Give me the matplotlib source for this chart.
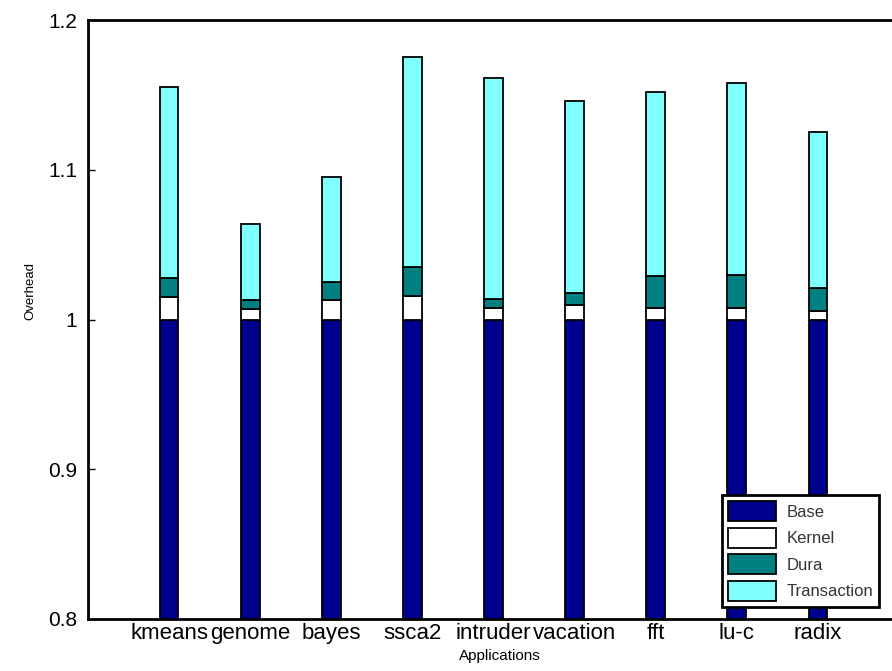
import numpy as np
import matplotlib
matplotlib.use('Agg')
from matplotlib import pyplot as plt

plt.rcParams['font.family'] = ['Liberation Sans', 'DejaVu Sans']

apps = ['kmeans', 'genome', 'bayes', 'ssca2', 'intruder', 'vacation', 'fft', 'lu-c', 'radix']
base = [1.0, 1.0, 1.0, 1.0, 1.0, 1.0, 1.0, 1.0, 1.0]
kernel = [0.015, 0.007, 0.013, 0.016, 0.008, 0.010, 0.008, 0.008, 0.006]
dura = [0.013, 0.006, 0.012, 0.019, 0.006, 0.008, 0.021, 0.022, 0.015]
transaction = [0.127, 0.051, 0.070, 0.140, 0.147, 0.128, 0.123, 0.128, 0.104]

series_names = ['Base', 'Kernel', 'Dura', 'Transaction']
series_colors = ['#00008f', '#ffffff', '#008080', '#80ffff']
y_ticks = [0.8, 0.9, 1.0, 1.1, 1.2]
y_ticklabels = ['0.8', '0.9', '1', '1.1', '1.2']

fig = plt.figure(figsize=(8.92, 6.71), dpi=100)
# axes run a little past the right edge of the figure
ax = fig.add_axes([88 / 892, 1 - 619 / 671, 811 / 892, 599 / 671])

x = np.arange(1, len(apps) + 1)
bottom = np.zeros(len(apps))
for vals, name, col in zip([base, kernel, dura, transaction], series_names, series_colors):
	ax.bar(x, vals, 0.23, bottom=bottom, color=col, edgecolor='black', linewidth=1.3, label=name)
	bottom = bottom + np.array(vals)

ax.set_xlim(0, 10)
ax.set_ylim(0.8, 1.2)
ax.set_yticks(y_ticks)
ax.set_yticklabels(y_ticklabels)
ax.set_xticks(x)
ax.set_xticklabels(apps)
ax.tick_params(axis='y', direction='in', length=5, width=1, labelsize=15, pad=8)
ax.tick_params(axis='x', direction='in', length=0, labelsize=16, pad=3)
for sp in ax.spines.values():
	sp.set_linewidth(2)

ax.set_ylabel('Overhead', fontsize=9.5)
ax.yaxis.set_label_coords(-0.064, 0.548)
ax.set_xlabel('Applications', fontsize=11)
ax.xaxis.set_label_coords(0.508, -0.05)

# legend box sits in the lower right and runs off the edge
leg = ax.legend(loc='lower left', bbox_to_anchor=(0.782, 0.02), fontsize=12,
	handlelength=2.87, handleheight=1.47, labelspacing=0.39, handletextpad=0.6,
	borderpad=0.37, borderaxespad=0, fancybox=False, framealpha=1)
leg.get_frame().set_edgecolor('black')
leg.get_frame().set_linewidth(2)
for t in leg.get_texts():
	t.set_color('#333333')

fig.savefig('out.png', dpi=100)
